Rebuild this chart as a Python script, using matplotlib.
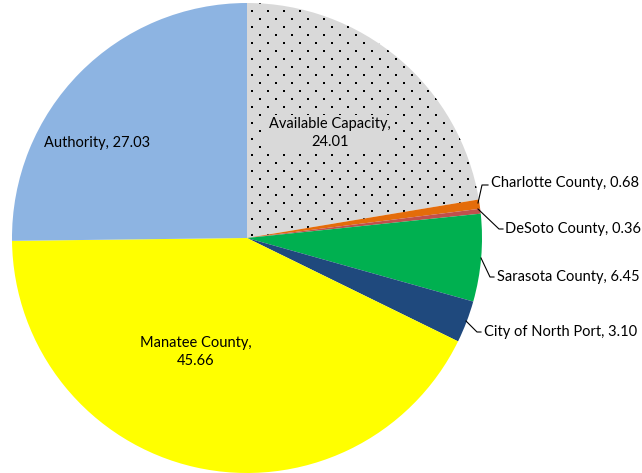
import matplotlib
matplotlib.use("Agg")
import matplotlib.pyplot as plt
import numpy as np

labels = ["Available Capacity", "Charlotte County", "DeSoto County", "Sarasota County",
          "City of North Port", "Manatee County", "Authority"]
values = [24.01, 0.68, 0.36, 6.45, 3.10, 45.66, 27.03]
colors = ["#D9D9D9", "#E46C0A", "#C0504D", "#00B050", "#1F497D", "#FFFF00", "#8DB4E2"]

plt.rcParams['font.family'] = ['Lato', 'DejaVu Sans']

W, H = 642, 473
fig = plt.figure(figsize=(W/100, H/100), dpi=100)
ax = fig.add_axes([0, 0, 1, 1])

cx, cy, r = 247, H - 238, 235
wedges, _ = ax.pie(values, colors=colors, startangle=90, counterclock=False,
                   center=(cx, cy), radius=r, frame=True,
                   wedgeprops=dict(linewidth=0))
ax.set_xlim(0, W)
ax.set_ylim(0, H)
ax.set_aspect('equal')
ax.axis('off')

# dotted fill texture for the "Available Capacity" slice (staggered dot grid)
pts_x, pts_y = [], []
for k, yy in enumerate(np.arange(4, H, 8)):
    x0 = 259 if k % 2 == 0 else 251
    xs = np.arange(x0 % 16, W, 16)
    pts_x.extend(xs)
    pts_y.extend([H - yy + 0.5] * len(xs))
dots = ax.scatter(np.array(pts_x) + 0.5, pts_y, s=2.2, marker='s', color='black',
                  linewidths=0, zorder=wedges[0].get_zorder() + 0.1)
dots.set_clip_path(wedges[0])

def fmt(i):
    return f"{labels[i]}, {values[i]:.2f}"

fs = 10.5
# inside labels
ax.text(330, H - 133, f"{labels[0]},\n{values[0]:.2f}", ha='center', va='center', fontsize=fs,
        linespacing=1.4, zorder=5,
        bbox=dict(boxstyle='square,pad=0.15', facecolor=colors[0], edgecolor='none'))
ax.text(97, H - 143, fmt(6), ha='center', va='center', fontsize=fs)
ax.text(196, H - 352, f"{labels[5]},\n{values[5]:.2f}", ha='center', va='center', fontsize=fs, linespacing=1.4)

# outside labels with leader lines (pixel coordinates)
outs = [
    (1, [(478, 203), (482, 185), (488, 185)], (491, 183)),
    (2, [(478, 209), (499, 229), (503, 229)], (505, 229)),
    (3, [(481, 258), (490, 277), (494, 277)], (497, 277)),
    (4, [(466, 321), (477, 332), (481, 332)], (484, 332)),
]
for i, pts, (tx, ty) in outs:
    xs = [p[0] for p in pts]
    ys = [H - p[1] for p in pts]
    ax.plot(xs, ys, color='black', linewidth=0.8)
    ax.text(tx, H - ty, fmt(i), ha='left', va='center', fontsize=fs)

fig.savefig("out.png", dpi=100)
